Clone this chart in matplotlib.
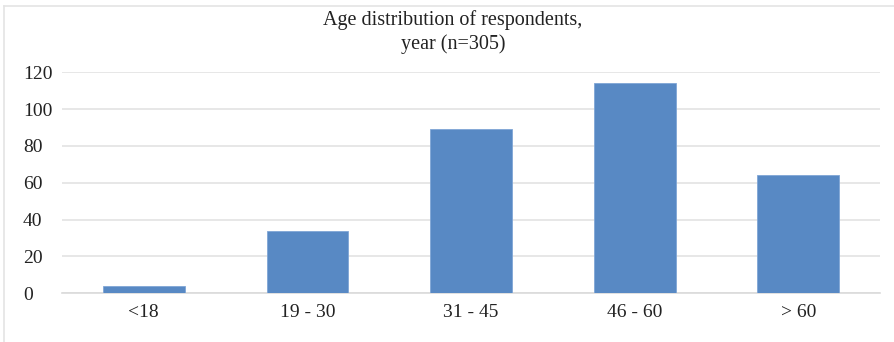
import matplotlib
matplotlib.use("Agg")
import matplotlib.pyplot as plt
from matplotlib.lines import Line2D

categories = ["<18", "19 - 30", "31 - 45", "46 - 60", "> 60"]
counts = [4, 34, 89, 114, 64]
yticks = [0, 20, 40, 60, 80, 100, 120]

plt.rcParams["font.family"] = ["Liberation Serif", "DejaVu Serif"]

W, H = 894, 342
fig = plt.figure(figsize=(W / 100, H / 100), dpi=100)
fig.patch.set_facecolor("white")

# Light frame at the chart edge
frame_col = "#e4e4e4"
fig.add_artist(Line2D([4 / W, 1.0], [1 - 6 / H, 1 - 6 / H], color=frame_col, lw=1.2,
                      transform=fig.transFigure))
fig.add_artist(Line2D([4 / W, 4 / W], [0.0, 1 - 6 / H], color=frame_col, lw=1.2,
                      transform=fig.transFigure))

ax = fig.add_axes([62 / W, 1 - 293.3 / H, (880 - 62) / W, (293.3 - 72.3) / H])
x = range(len(categories))
ax.bar(x, counts, width=0.5, color="#5889c4", edgecolor="#7fa6d6", linewidth=0.6, zorder=3)

ax.set_xlim(-0.5, len(categories) - 0.5)
ax.set_ylim(0, 120)
ax.set_yticks(yticks)
ax.set_xticks(list(x))
ax.set_xticklabels(categories)
ax.yaxis.grid(True, color="#e3e3e3", linewidth=1.2, zorder=0)
ax.xaxis.grid(False)
for s in ["top", "right", "left"]:
    ax.spines[s].set_visible(False)
ax.spines["bottom"].set_color("#dadada")
ax.spines["bottom"].set_linewidth(1.2)
ax.tick_params(axis="both", length=0, labelsize=14, colors="#222222")
ax.tick_params(axis="y", pad=28)
ax.tick_params(axis="x", pad=8)
for lbl in ax.get_yticklabels():
    lbl.set_horizontalalignment("left")

fig.text(453 / W, 1 - 32 / H, "Age distribution of respondents,\nyear (n=305)",
         ha="center", va="center", fontsize=14.5, color="#222222", linespacing=1.28)

fig.savefig("out.png", dpi=100, facecolor="white")
